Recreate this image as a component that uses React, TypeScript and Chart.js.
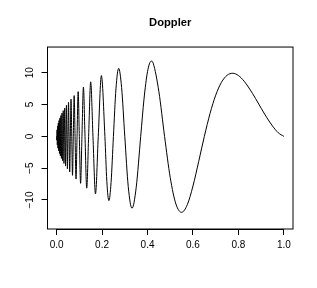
import React, { useEffect, useRef } from "react";
import { Chart, registerables } from "chart.js";

Chart.register(...registerables);

const titleText = "Doppler";

const xTicks = [0, 0.2, 0.4, 0.6, 0.8, 1.0];
const xTickLabels = ["0.0", "0.2", "0.4", "0.6", "0.8", "1.0"];
const yTicks = [-10, -5, 0, 5, 10];
const yTickLabels = ["\u221210", "\u22125", "0", "5", "10"];

const xValues = [
  0, 0.0006, 0.00122, 0.00185, 0.0025, 0.00316, 0.00385, 0.00455, 0.00526, 0.006,
  0.00676, 0.00753, 0.00833, 0.00915, 0.01, 0.01087, 0.01176, 0.01269, 0.01364, 0.01462,
  0.015625, 0.01667, 0.01774, 0.01885, 0.02, 0.02119, 0.02241, 0.02368, 0.025, 0.02636,
  0.02778, 0.02925, 0.03077, 0.03235, 0.034, 0.03571, 0.0375, 0.03936, 0.0413, 0.04333,
  0.04545, 0.04767, 0.05, 0.05244, 0.055, 0.05769, 0.06053, 0.06351, 0.06667, 0.07,
  0.07353, 0.07727, 0.08125, 0.08548, 0.09, 0.09483, 0.1, 0.10556, 0.11154, 0.118,
  0.125, 0.13261, 0.14091, 0.15, 0.16, 0.17105, 0.18333, 0.19706, 0.2125, 0.22097,
  0.23, 0.23966, 0.25, 0.26111, 0.27308, 0.286, 0.3, 0.31522, 0.33182, 0.35,
  0.37, 0.38448, 0.4, 0.41667, 0.425, 0.45, 0.475, 0.5, 0.525, 0.55,
  0.575, 0.6, 0.625, 0.65, 0.675, 0.7, 0.725, 0.75, 0.775, 0.8,
  0.825, 0.85, 0.875, 0.9, 0.925, 0.95, 0.975, 1.0,
];

const yValues = [
  0, -0.59, 0, 1.03, 0, -1.35, 0, 1.62, 0, -1.85,
  0, 2.08, 0, -2.29, 0, 2.49, 0, -2.69, 0, 2.88,
  0, -3.07, 0, 3.26, 0, -3.46, 0, 3.65, 0, -3.85,
  0, 4.04, 0, -4.25, 0, 4.45, 0, -4.67, 0, 4.89,
  0, -5.11, 0, 5.35, 0, -5.6, 0, 5.85, 0, -6.12,
  0, 6.41, 0, -6.71, 0, 7.03, 0, -7.38, 0, 7.74,
  0, -8.14, 0, 8.57, 0, -9.04, 0, 9.55, 0, -7.04,
  -10.1, -7.24, 0, 7.45, 10.69, 7.67, 0, -7.89, -11.3, -8.09,
  0, 5.84, 10.18, 11.83, 11.5, 7.02, 0, -6.49, -10.64, -11.94,
  -10.74, -7.8, -3.97, 0, 3.59, 6.47, 8.48, 9.6, 9.92, 9.56,
  8.67, 7.42, 5.96, 4.42, 2.94, 1.62, 0.57, 0,
];

const FONT = "'Liberation Sans', Arial, Helvetica, sans-serif";

const boxPlugin = {
  id: "rbox",
  afterDraw(chart: any) {
    const { ctx, chartArea } = chart;
    const xs = chart.scales.x;
    const ys = chart.scales.y;
    ctx.save();
    // box
    ctx.strokeStyle = "#000";
    ctx.lineWidth = 1;
    ctx.strokeRect(chartArea.left, chartArea.top, chartArea.right - chartArea.left, chartArea.bottom - chartArea.top);
    // axis lines over tick range
    ctx.beginPath();
    ctx.moveTo(chartArea.left, ys.getPixelForValue(yTicks[0]));
    ctx.lineTo(chartArea.left, ys.getPixelForValue(yTicks[yTicks.length - 1]));
    ctx.moveTo(xs.getPixelForValue(xTicks[0]), chartArea.bottom + 0.5);
    ctx.lineTo(xs.getPixelForValue(xTicks[xTicks.length - 1]), chartArea.bottom + 0.5);
    ctx.stroke();
    // rotated y tick labels
    ctx.fillStyle = "#000";
    ctx.font = "10px " + FONT;
    ctx.textAlign = "center";
    ctx.textBaseline = "alphabetic";
    yTicks.forEach((v, i) => {
      const py = ys.getPixelForValue(v);
      ctx.save();
      ctx.translate(33.3, py);
      ctx.rotate(-Math.PI / 2);
      ctx.fillText(yTickLabels[i], 0, 0);
      ctx.restore();
    });
    ctx.restore();
  },
};

export default function App() {
  const ref = useRef<HTMLCanvasElement | null>(null);
  useEffect(() => {
    document.body.style.margin = "0";
    const canvas = ref.current;
    if (!canvas) return;
    const chart = new Chart(canvas, {
      type: "line",
      data: {
        datasets: [
          {
            data: xValues.map((x, i) => ({ x, y: yValues[i] })),
            borderColor: "#000",
            borderWidth: 1,
            pointRadius: 0,
            cubicInterpolationMode: "monotone",
            fill: false,
          },
        ],
      },
      options: {
        responsive: false,
        animation: false,
        devicePixelRatio: 1,
        layout: { padding: { left: 0, right: 24, top: 0, bottom: 0 } },
        plugins: {
          legend: { display: false },
          tooltip: { enabled: false },
          title: {
            display: true,
            text: titleText,
            fullSize: false,
            color: "#000",
            font: { family: FONT, size: 11.2, weight: "bold", lineHeight: 1.2 },
            padding: { top: 16.6, bottom: 17 },
          },
        },
        scales: {
          x: {
            type: "linear",
            min: -0.04,
            max: 1.04,
            afterBuildTicks: (s: any) => {
              s.ticks = xTicks.map((v) => ({ value: v }));
            },
            afterFit: (s: any) => {
              s.height = 59;
            },
            grid: { drawOnChartArea: false, drawTicks: true, tickLength: 6, color: "#000", lineWidth: 1 },
            border: { display: false },
            ticks: {
              padding: 4,
              color: "#000",
              maxRotation: 0,
              autoSkip: false,
              font: { family: FONT, size: 10 },
              callback: (v: any) => {
                const i = xTicks.indexOf(Number(v));
                return i >= 0 ? xTickLabels[i] : "";
              },
            },
          },
          y: {
            type: "linear",
            min: -14.56,
            max: 14.04,
            afterBuildTicks: (s: any) => {
              s.ticks = yTicks.map((v) => ({ value: v }));
            },
            afterFit: (s: any) => {
              s.width = 47.5;
            },
            grid: { drawOnChartArea: false, drawTicks: true, tickLength: 6, color: "#000", lineWidth: 1 },
            border: { display: false },
            ticks: { display: false },
          },
        },
      },
      plugins: [boxPlugin],
    } as any);
    return () => chart.destroy();
  }, []);
  return (
    <div style={{ width: 317, height: 288, background: "#fff" }}>
      <canvas ref={ref} width={317} height={288} />
    </div>
  );
}
